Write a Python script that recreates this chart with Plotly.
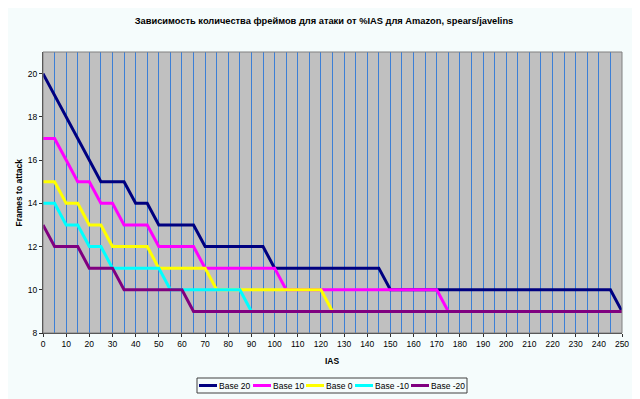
import plotly.graph_objects as go

ias = list(range(0, 251, 5))

base20 = [20, 19, 18, 17, 16, 15, 15, 15, 14, 14, 13, 13, 13, 13, 12, 12, 12, 12, 12, 12,
          11, 11, 11, 11, 11, 11, 11, 11, 11, 11, 10, 10, 10, 10, 10, 10, 10, 10, 10, 10,
          10, 10, 10, 10, 10, 10, 10, 10, 10, 10, 9]
base10 = [17, 17, 16, 15, 15, 14, 14, 13, 13, 13, 12, 12, 12, 12, 11, 11, 11, 11, 11, 11,
          11, 10, 10, 10, 10, 10, 10, 10, 10, 10, 10, 10, 10, 10, 10, 9, 9, 9, 9, 9,
          9, 9, 9, 9, 9, 9, 9, 9, 9, 9, 9]
base0 = [15, 15, 14, 14, 13, 13, 12, 12, 12, 12, 11, 11, 11, 11, 11, 10, 10, 10, 10, 10,
         10, 10, 10, 10, 10, 9, 9, 9, 9, 9, 9, 9, 9, 9, 9, 9, 9, 9, 9, 9,
         9, 9, 9, 9, 9, 9, 9, 9, 9, 9, 9]
base_m10 = [14, 14, 13, 13, 12, 12, 11, 11, 11, 11, 11, 10, 10, 10, 10, 10, 10, 10, 9, 9,
            9, 9, 9, 9, 9, 9, 9, 9, 9, 9, 9, 9, 9, 9, 9, 9, 9, 9, 9, 9,
            9, 9, 9, 9, 9, 9, 9, 9, 9, 9, 9]
base_m20 = [13, 12, 12, 12, 11, 11, 11, 10, 10, 10, 10, 10, 10, 9, 9, 9, 9, 9, 9, 9,
            9, 9, 9, 9, 9, 9, 9, 9, 9, 9, 9, 9, 9, 9, 9, 9, 9, 9, 9, 9,
            9, 9, 9, 9, 9, 9, 9, 9, 9, 9, 9]

series_names = ["Base 20", "Base 10", "Base 0", "Base -10", "Base -20"]
series_values = [base20, base10, base0, base_m10, base_m20]
series_colors = ["#000080", "#FF00FF", "#FFFF00", "#00FFFF", "#800080"]

x_ticks = list(range(0, 251, 10))
y_ticks = list(range(8, 21, 2))

# page has an 8px body margin; work in screen pixels and compensate
OFF = 8
W, H = 640 - OFF, 399 - OFF
SL, SR, ST, SB = 43, 622, 52, 333  # plot area in screen pixels
L, T = SL - OFF, ST - OFF
R = W - (SR - OFF)
B = H - (SB - OFF)
PW, PH = SR - SL, SB - ST


def px(x):
    return (x - SL) / PW


def py(y):
    return (SB - y) / PH


fig = go.Figure()
for name, vals, color in zip(series_names, series_values, series_colors):
    fig.add_trace(go.Scatter(x=ias, y=vals, name=name, mode="lines",
                             line=dict(color=color, width=3), showlegend=False))

# plot-area border
shapes = [dict(type="rect", xref="paper", yref="paper", x0=0, x1=1, y0=0, y1=1,
               line=dict(color="#808080", width=1), layer="above")]
annotations = []

# axis titles
annotations.append(dict(text="<b>IAS</b>", xref="paper", yref="paper", x=0.5, y=py(361),
                        xanchor="center", yanchor="middle", showarrow=False,
                        font=dict(size=8.5)))
annotations.append(dict(text="<b>Frames to attack</b>", xref="paper", yref="paper", x=px(18.5),
                        y=py(193), xanchor="center", yanchor="middle", showarrow=False,
                        textangle=-90, font=dict(size=8.5)))

# compact Excel-like legend
box_x0, box_x1, box_y0, box_y1 = 197, 467, 378, 393
shapes.append(dict(type="rect", xref="paper", yref="paper",
                   x0=px(box_x0), x1=px(box_x1), y0=py(box_y1), y1=py(box_y0),
                   line=dict(color="#404040", width=1), fillcolor="#F5FCFC", layer="above"))
item_starts = [199, 253, 306, 355, 411]
cy = 385.5
for name, color, sx in zip(series_names, series_colors, item_starts):
    shapes.append(dict(type="line", xref="paper", yref="paper",
                       x0=px(sx), x1=px(sx + 18), y0=py(cy), y1=py(cy),
                       line=dict(color=color, width=3), layer="above"))
    annotations.append(dict(text=name, xref="paper", yref="paper", x=px(sx + 18.5), y=py(cy),
                            xanchor="left", yanchor="middle", showarrow=False,
                            font=dict(size=8.5, color="#000000"), borderpad=0))

grid_color = "#3C7FD6"
fig.update_layout(
    width=W, height=H,
    paper_bgcolor="#F5FCFC",
    plot_bgcolor="#C0C0C0",
    margin=dict(l=L, r=R, t=T, b=B, autoexpand=False),
    font=dict(family="Liberation Sans, Arial", size=8, color="#000000"),
    title=dict(text="<b>Зависимость количества фреймов для атаки от %IAS для Amazon, spears/javelins</b>",
               x=0.5, xanchor="center",
               y=1 - (21 - OFF) / H, yanchor="middle", yref="container",
               font=dict(size=9.3)),
    shapes=shapes,
    annotations=annotations,
    xaxis=dict(range=[0, 250], tickvals=x_ticks, showgrid=True, gridcolor=grid_color, gridwidth=1,
               minor=dict(dtick=5, tick0=0, showgrid=True, gridcolor=grid_color, gridwidth=1),
               showline=True, linecolor="#303030", linewidth=1, automargin=False,
               ticks="outside", ticklen=3, tickcolor="#303030", zeroline=False,
               tickfont=dict(size=8.5)),
    yaxis=dict(range=[8, 21], tickvals=y_ticks, showgrid=False, zeroline=False,
               showline=True, linecolor="#303030", linewidth=1, automargin=False,
               ticks="outside", ticklen=3, tickcolor="#303030",
               tickfont=dict(size=8.5)),
)

fig.write_html("out.html")
